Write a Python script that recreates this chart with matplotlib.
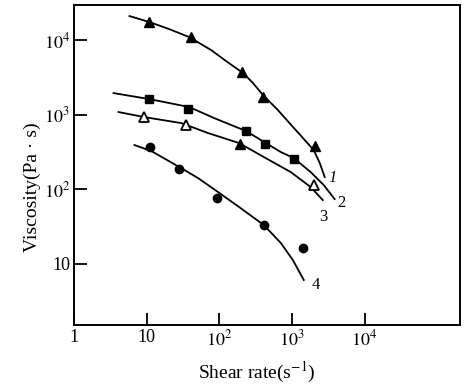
import numpy as np
import matplotlib.pyplot as plt
import matplotlib.ticker as mticker

plt.rcParams['font.family'] = ['Liberation Serif', 'DejaVu Serif']
plt.rcParams['mathtext.fontset'] = 'stix'

# points mesures (shear rate s^-1, viscosite Pa.s)
x1 = [10.9, 41, 205, 398, 2055]
y1 = [17700, 11100, 3760, 1730, 381]
x2 = [10.9, 37.3, 233, 424, 1060]
y2 = [1630, 1200, 605, 405, 255]
x3 = [9.3, 35, 1990]
y3 = [933, 730, 114]
x3_plein = [192]
y3_plein = [405]
x4 = [11.2, 28, 93, 411, 1406]
y4 = [369, 187, 76, 33, 16.2]

# courbes lissees
c1_x = [5.79, 10.9, 20.5, 38.5, 77.1, 124, 212, 290, 398, 640, 964, 1410, 1990, 2410, 2820]
c1_y = [21300, 17700, 14200, 11100, 7430, 5280, 3650, 2680, 1850, 1160, 740, 490, 336, 225, 146]
c2_x = [3.49, 10.9, 38.5, 84.7, 233, 437, 703, 1060, 1810, 2730, 3860]
c2_y = [1963, 1630, 1274, 906, 606, 418, 316, 262, 170, 114, 73.8]
c3_x = [4.09, 9.29, 29.9, 70.1, 187, 410, 964, 1810, 2650]
c3_y = [1091, 933, 776, 569, 418, 271, 170, 107, 71.6]
c4_x = [6.78, 11.6, 28.1, 51.1, 96.1, 187, 410, 703, 1026, 1452]
c4_y = [393, 326, 199, 141, 91.6, 57.7, 33.0, 18.9, 11.2, 6.03]

xticks = [1, 10, 100, 1000, 10000]
xtick_labels = ['1', '10', '$10^2$', '$10^3$', '$10^4$']
yticks = [10, 100, 1000, 10000]
ytick_labels = ['10', '$10^2$', '$10^3$', '$10^4$']

fig = plt.figure(figsize=(4.66, 3.85), dpi=100)
ax = fig.add_axes([0.159, 0.156, 0.828, 0.831])

# courbes
for cx, cy in [(c1_x, c1_y), (c2_x, c2_y), (c3_x, c3_y), (c4_x, c4_y)]:
    ax.plot(cx, cy, color='black', lw=1.3, solid_joinstyle='round')

# points
ax.plot(x1, y1, '^', color='black', ms=7)
ax.plot(x2, y2, 's', color='black', ms=6)
ax.plot(x3, y3, '^', color='black', mfc='white', mew=1.3, ms=7)
ax.plot(x3_plein, y3_plein, '^', color='black', ms=7)
ax.plot(x4, y4, 'o', color='black', ms=6)

# numeros des courbes
ax.text(3630, 142, '1', fontsize=12, style='italic', ha='center', va='center')
ax.text(4820, 65, '2', fontsize=12, ha='center', va='center')
ax.text(2730, 42, '3', fontsize=12, ha='center', va='center')
ax.text(2120, 5.2, '4', fontsize=12, ha='center', va='center')

ax.set_xscale('log')
ax.set_yscale('log')
ax.set_xlim(1, 2.05e5)
ax.set_ylim(1.5, 3.0e4)

ax.xaxis.set_major_locator(mticker.FixedLocator(xticks))
ax.xaxis.set_minor_locator(mticker.NullLocator())
ax.set_xticklabels(xtick_labels)
ax.yaxis.set_major_locator(mticker.FixedLocator(yticks))
ax.yaxis.set_minor_locator(mticker.NullLocator())
ax.set_yticklabels(ytick_labels)

ax.tick_params(direction='in', length=9, width=1.3, labelsize=13, pad=3)
for s in ax.spines.values():
    s.set_linewidth(1.4)

ax.set_xlabel('Shear rate(s$^{-1}$)', fontsize=14)
ax.set_ylabel('Viscosity(Pa · s)', fontsize=14)
ax.xaxis.set_label_coords(0.474, -0.108)
ax.yaxis.set_label_coords(-0.085, 0.43)

fig.savefig('out.png', dpi=100)
